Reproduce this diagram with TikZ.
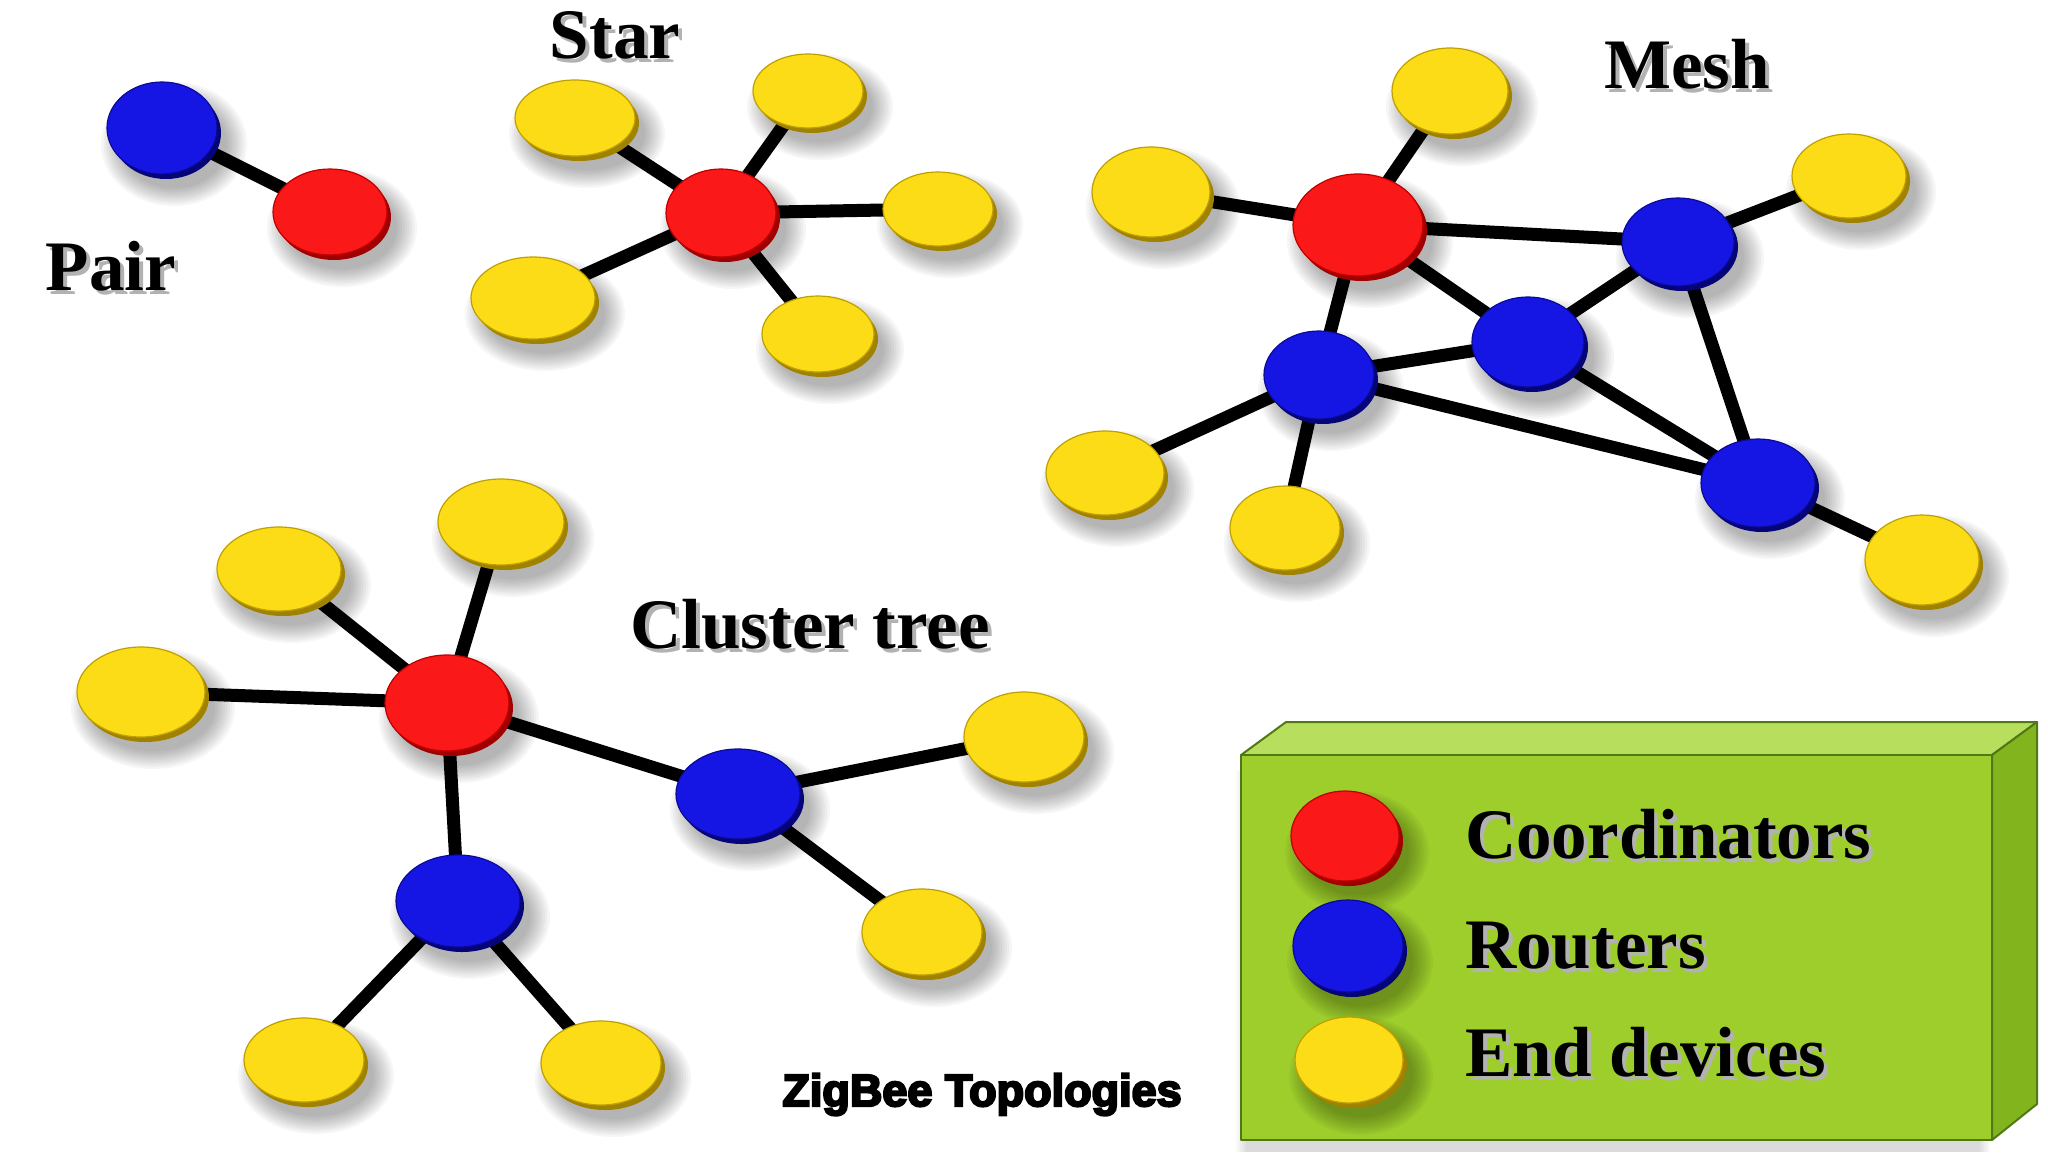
\documentclass[tikz,border=0pt]{standalone}
\usepackage{fontspec}
\setmainfont{Liberation Serif}
\newfontfamily\zbcapfont[BoldFeatures={FakeBold=5}]{Liberation Sans}
\usetikzlibrary{shapes.geometric}
\pgfdeclarelayer{boxlayer}
\pgfdeclarelayer{shadowlayer}
\pgfdeclarelayer{edgelayer}
\pgfsetlayers{boxlayer,shadowlayer,edgelayer,main}
\definecolor{zbRed}{RGB}{250,24,24}
\definecolor{zbRedD}{RGB}{190,0,0}
\definecolor{zbRedRim}{RGB}{160,0,0}
\definecolor{zbBlue}{RGB}{22,22,228}
\definecolor{zbBlueD}{RGB}{10,10,150}
\definecolor{zbBlueRim}{RGB}{5,5,120}
\definecolor{zbYel}{RGB}{252,220,22}
\definecolor{zbYelD}{RGB}{190,160,0}
\definecolor{zbYelRim}{RGB}{160,130,0}
\definecolor{zbBoxFront}{RGB}{158,206,44}
\definecolor{zbBoxTop}{RGB}{184,222,94}
\definecolor{zbBoxSide}{RGB}{130,180,30}
\definecolor{zbBoxLine}{RGB}{80,120,20}
\tikzset{
  zbedge/.style={line width=13pt, black},
  zbredtop/.style={ellipse, inner sep=0pt, fill=zbRed, draw=zbRedD, line width=1.2pt},
  zbredrim/.style={fill=zbRedRim},
  zbbluetop/.style={ellipse, inner sep=0pt, fill=zbBlue, draw=zbBlueD, line width=1.2pt},
  zbbluerim/.style={fill=zbBlueRim},
  zbyeltop/.style={ellipse, inner sep=0pt, fill=zbYel, draw=zbYelD, line width=1.2pt},
  zbyelrim/.style={fill=zbYelRim},
  zblabtxt/.style={inner sep=0pt, font=\fontsize{71}{80}\selectfont\bfseries},
}
\newcommand\zbdev[6]{%
  \begin{pgfonlayer}{shadowlayer}
    \foreach \k in {0,...,8}{\fill[black,opacity=0.035] ({#2+12},{#3+16}) ellipse [x radius={(#4+18-2.5*\k)*1pt}, y radius={(#5+16-2.2*\k)*1pt}];}
  \end{pgfonlayer}
  \fill[#6rim] ({#2+4},{#3+5}) ellipse [x radius=#4pt, y radius=#5pt];
  \node[#6top, minimum width={2*#4pt}, minimum height={2*#5pt}] (#1) at (#2,#3) {};
}
\newcommand\zblab[5]{% name, x, y, anchor, text
  \node[zblabtxt, anchor=#4, text=black!30] (#1sh) at ({#2+4},{#3+4}) {#5};
  \node[zblabtxt, anchor=#4] (#1) at (#2,#3) {#5};
}
\begin{document}
\begin{tikzpicture}[x=1pt,y=-1pt]
\useasboundingbox (0,0) rectangle (2048,1152);
\begin{pgfonlayer}{boxlayer}
  \fill[white] (0,0) rectangle (2048,1152);
  \foreach \k in {0,...,5}{\fill[black,opacity=0.025] ({1236+2*\k},{770+2*\k}) rectangle ({1990-2*\k},{1152});}
  \path[draw=zbBoxLine, fill=zbBoxTop, line width=2pt, line join=round] (1241,755) -- (1286,722) -- (2037,722) -- (1992,755) -- cycle;
  \path[draw=zbBoxLine, fill=zbBoxSide, line width=2pt, line join=round] (1992,755) -- (2037,722) -- (2037,1104) -- (1992,1140) -- cycle;
  \path[draw=zbBoxLine, fill=zbBoxFront, line width=2pt, line join=round] (1241,755) rectangle (1992,1140);
\end{pgfonlayer}

% Pair
\zbdev{pB}{162}{128}{55}{46}{zbblue}
\zbdev{pR}{330}{212}{57}{43}{zbred}
% Star
\zbdev{sR}{721}{213}{55}{44}{zbred}
\zbdev{sY1}{575}{118}{60}{38}{zbyel}
\zbdev{sY2}{808}{91}{55}{37}{zbyel}
\zbdev{sY3}{938}{209}{55}{37}{zbyel}
\zbdev{sY4}{533}{298}{62}{41}{zbyel}
\zbdev{sY5}{818}{334}{56}{38}{zbyel}
% Mesh
\zbdev{mR}{1358}{225}{65}{51}{zbred}
\zbdev{mY1}{1450}{91}{58}{43}{zbyel}
\zbdev{mY2}{1151}{192}{59}{45}{zbyel}
\zbdev{mY3}{1849}{176}{57}{42}{zbyel}
\zbdev{mY4}{1105}{473}{59}{42}{zbyel}
\zbdev{mY5}{1285}{528}{55}{42}{zbyel}
\zbdev{mY6}{1922}{560}{57}{45}{zbyel}
\zbdev{mB1}{1678}{242}{56}{44}{zbblue}
\zbdev{mB2}{1528}{342}{56}{45}{zbblue}
\zbdev{mB3}{1319}{375}{55}{44}{zbblue}
\zbdev{mB4}{1758}{483}{57}{44}{zbblue}
% Cluster tree
\zbdev{cR}{447}{703}{62}{48}{zbred}
\zbdev{cY1}{501}{522}{63}{43}{zbyel}
\zbdev{cY2}{279}{569}{62}{42}{zbyel}
\zbdev{cY3}{141}{692}{64}{45}{zbyel}
\zbdev{cY4}{1024}{737}{60}{45}{zbyel}
\zbdev{cY5}{922}{932}{60}{43}{zbyel}
\zbdev{cY6}{304}{1060}{60}{42}{zbyel}
\zbdev{cY7}{601}{1063}{60}{42}{zbyel}
\zbdev{cB1}{738}{794}{62}{45}{zbblue}
\zbdev{cB2}{458}{901}{62}{46}{zbblue}
% Legend
\zbdev{lgR}{1345}{836}{54}{45}{zbred}
\zbdev{lgB}{1348}{946}{55}{46}{zbblue}
\zbdev{lgY}{1349}{1060}{54}{43}{zbyel}

\begin{pgfonlayer}{edgelayer}
  \draw[zbedge] (pB.center) -- (pR.center);
  \foreach \t in {sY1,sY2,sY3,sY4,sY5}{\draw[zbedge] (sR.center) -- (\t.center);}
  \draw[zbedge] (mY1.center) -- (mR.center);
  \draw[zbedge] (mY2.center) -- (mR.center);
  \draw[zbedge] (mR.center) -- (mB1.center);
  \draw[zbedge] (mR.center) -- (mB2.center);
  \draw[zbedge] (mR.center) -- (mB3.center);
  \draw[zbedge] (mB1.center) -- (mY3.center);
  \draw[zbedge] (mB1.center) -- (mB2.center);
  \draw[zbedge] (mB1.center) -- (mB4.center);
  \draw[zbedge] (mB2.center) -- (mB3.center);
  \draw[zbedge] (mB2.center) -- (mB4.center);
  \draw[zbedge] (mB3.center) -- (mB4.center);
  \draw[zbedge] (mB3.center) -- (mY4.center);
  \draw[zbedge] (mB3.center) -- (mY5.center);
  \draw[zbedge] (mB4.center) -- (mY6.center);
  \foreach \t in {cY1,cY2,cY3,cB1,cB2}{\draw[zbedge] (cR.center) -- (\t.center);}
  \draw[zbedge] (cB1.center) -- (cY4.center);
  \draw[zbedge] (cB1.center) -- (cY5.center);
  \draw[zbedge] (cB2.center) -- (cY6.center);
  \draw[zbedge] (cB2.center) -- (cY7.center);
\end{pgfonlayer}

% Labels
\zblab{lPair}{111}{290}{base}{Pair}
\zblab{lStar}{615}{58}{base}{Star}
\zblab{lMesh}{1687}{88}{base}{Mesh}
\zblab{lCluster}{810}{648}{base}{Cluster tree}
\zblab{lgRt}{1465}{858}{base west}{Coordinators}
\zblab{lgBt}{1465}{968}{base west}{Routers}
\zblab{lgYt}{1465}{1076}{base west}{End devices}
\node[inner sep=0pt, anchor=base, font=\zbcapfont\bfseries\fontsize{45}{50}\selectfont] (caption) at (982,1106) {ZigBee Topologies};
\end{tikzpicture}
\end{document}
